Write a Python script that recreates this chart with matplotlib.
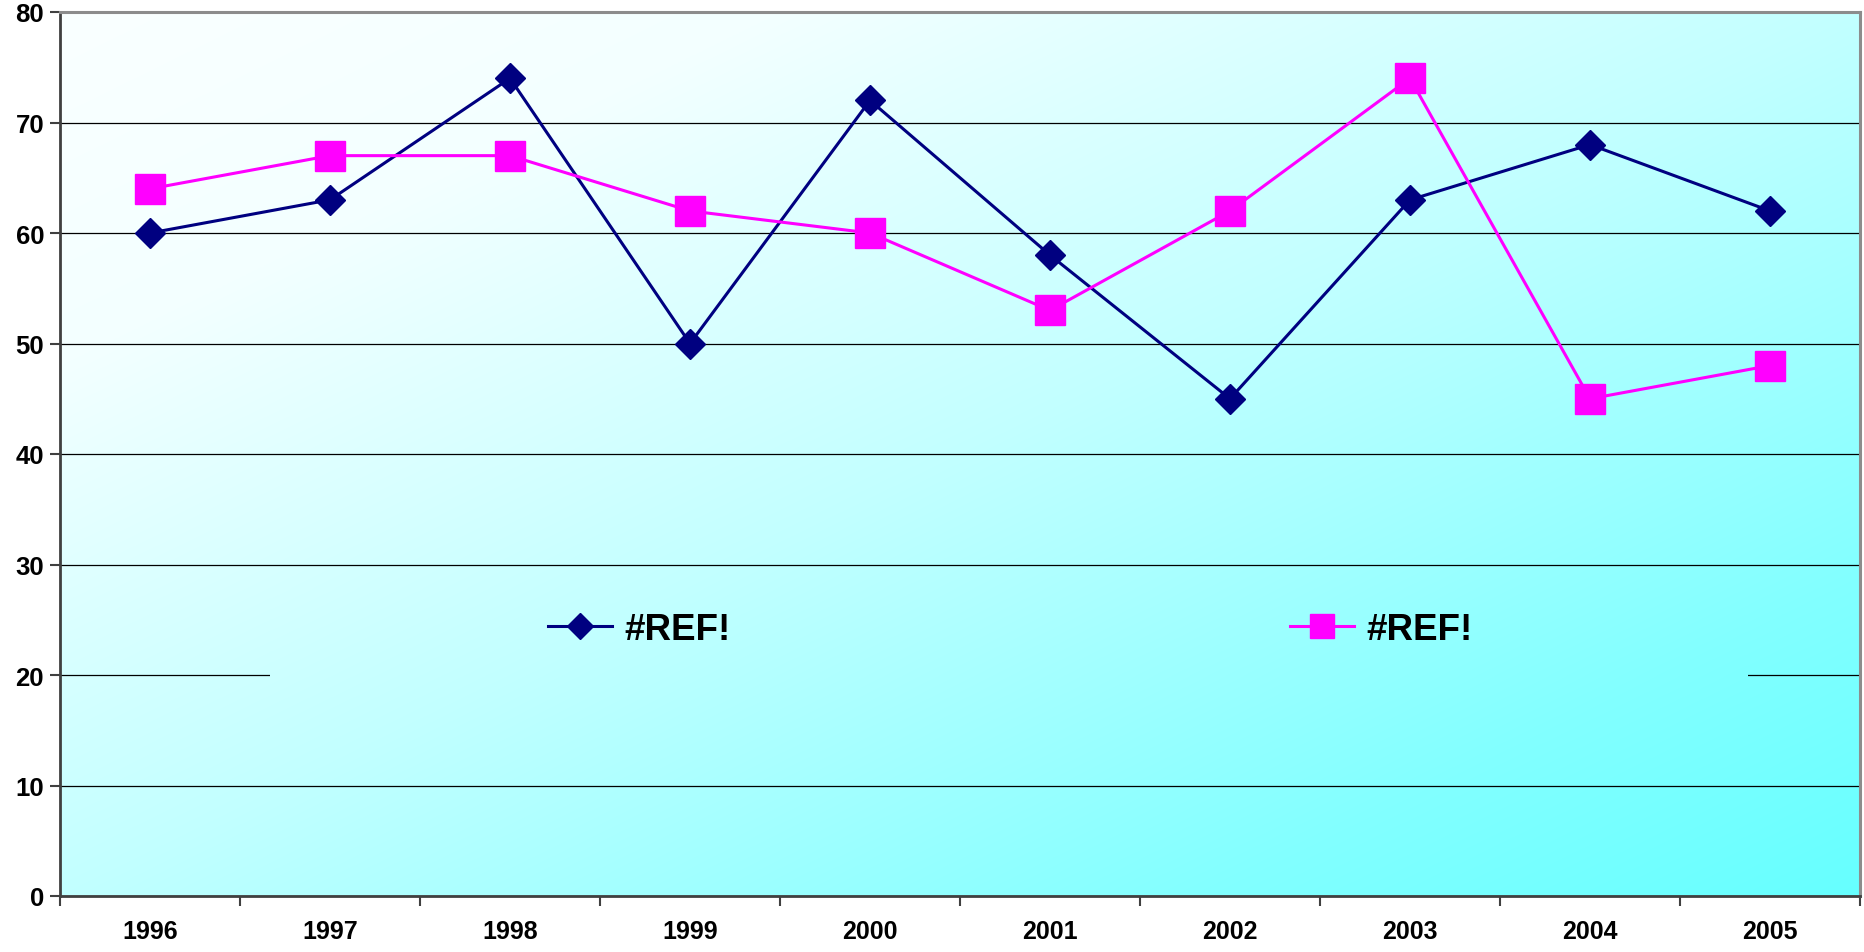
import numpy as np
import matplotlib
matplotlib.use("Agg")
import matplotlib.pyplot as plt
from matplotlib.lines import Line2D

years = ["1996", "1997", "1998", "1999", "2000", "2001", "2002", "2003", "2004", "2005"]
series_navy = [60, 63, 74, 50, 72, 58, 45, 63, 68, 62]
series_magenta = [64, 67, 67, 62, 60, 53, 62, 74, 45, 48]
legend_labels = ["#REF!", "#REF!"]
y_ticks = [0, 10, 20, 30, 40, 50, 60, 70, 80]

plt.rcParams['font.family'] = ['Liberation Sans', 'DejaVu Sans']
plt.rcParams['font.weight'] = 'bold'

W, H = 1865, 953
fig = plt.figure(figsize=(W / 100, H / 100), dpi=100)
fig.patch.set_facecolor('white')
ax = fig.add_axes([60 / W, (H - 897) / H, 1800 / W, (897 - 13) / H])

x = np.arange(len(years))
ax.set_xlim(-0.5, len(years) - 0.5)
ax.set_ylim(0, 80)

grad_t = [0.0, 0.2, 0.5, 0.82, 1.0]
grad_r = [250, 243, 194, 130, 102]


def gradient(xa, ya):
    # xa in [0,1] left->right, ya in [0,1] top->bottom
    t = (xa + ya) / 2.0
    r = np.interp(t, grad_t, grad_r)
    img = np.zeros(xa.shape + (3,))
    img[..., 0] = r / 255.0
    img[..., 1] = 1.0
    img[..., 2] = 1.0
    return img


gx, gy = np.meshgrid(np.linspace(0, 1, 500), np.linspace(0, 1, 300))
ax.imshow(gradient(gx, gy), extent=[-0.5, len(years) - 0.5, 0, 80],
          aspect='auto', zorder=0, interpolation='bilinear')

# legend box region (covers gridline), filled with same gradient
bx0, bx1 = 0.667, 8.878
by0, by1 = 19.8, 27.8
fx0 = (bx0 + 0.5) / len(years)
fx1 = (bx1 + 0.5) / len(years)
fy0 = 1 - by1 / 80
fy1 = 1 - by0 / 80
lx, ly = np.meshgrid(np.linspace(fx0, fx1, 300), np.linspace(fy0, fy1, 50))
ax.imshow(gradient(lx, ly), extent=[bx0, bx1, by0, by1], aspect='auto',
          zorder=1, interpolation='bilinear')

ax.set_axisbelow(True)
ax.yaxis.grid(True, color='black', linewidth=0.9)
ax.xaxis.grid(False)

ax.plot(x, series_navy, color='#000080', linewidth=2.2, marker='D',
        markersize=15.5, markerfacecolor='#000080', markeredgecolor='#000080',
        zorder=3)
ax.plot(x, series_magenta, color='#FF00FF', linewidth=2.2, marker='s',
        markersize=21, markerfacecolor='#FF00FF', markeredgecolor='#FF00FF',
        zorder=3)

ax.set_yticks(y_ticks)
ax.set_yticklabels([str(v) for v in y_ticks], fontsize=18.5, fontweight='bold')
ax.set_xticks(x)
ax.set_xticklabels(years, fontsize=18, fontweight='bold')
ax.set_xticks(np.arange(-0.5, len(years), 1.0), minor=True)
ax.tick_params(axis='x', which='major', length=0, pad=16.5)
ax.tick_params(axis='x', which='minor', length=7, width=1.5, color='#404040', direction='out')
ax.tick_params(axis='y', length=7, width=1.5, color='#404040', direction='out', pad=4.5)

for side in ['left', 'bottom']:
    ax.spines[side].set_color('#404040')
    ax.spines[side].set_linewidth(2)
for side in ['top', 'right']:
    ax.spines[side].set_color('#8c8c8c')
    ax.spines[side].set_linewidth(2.2)

handles = [
    Line2D([], [], color='#000080', linewidth=2.2, marker='D', markersize=13.5,
           markerfacecolor='#000080', markeredgecolor='#000080'),
    Line2D([], [], color='#FF00FF', linewidth=2.2, marker='s', markersize=17,
           markerfacecolor='#FF00FF', markeredgecolor='#FF00FF'),
]
leg = ax.legend(handles, legend_labels, ncol=2, loc='center',
                bbox_to_anchor=(1010 / W, (H - 630) / H), bbox_transform=fig.transFigure,
                frameon=False, prop={'size': 26.5, 'weight': 'bold'},
                handlelength=1.75, handletextpad=0.32, columnspacing=15.2)
leg.set_zorder(5)

fig.savefig('out.png', dpi=100)
